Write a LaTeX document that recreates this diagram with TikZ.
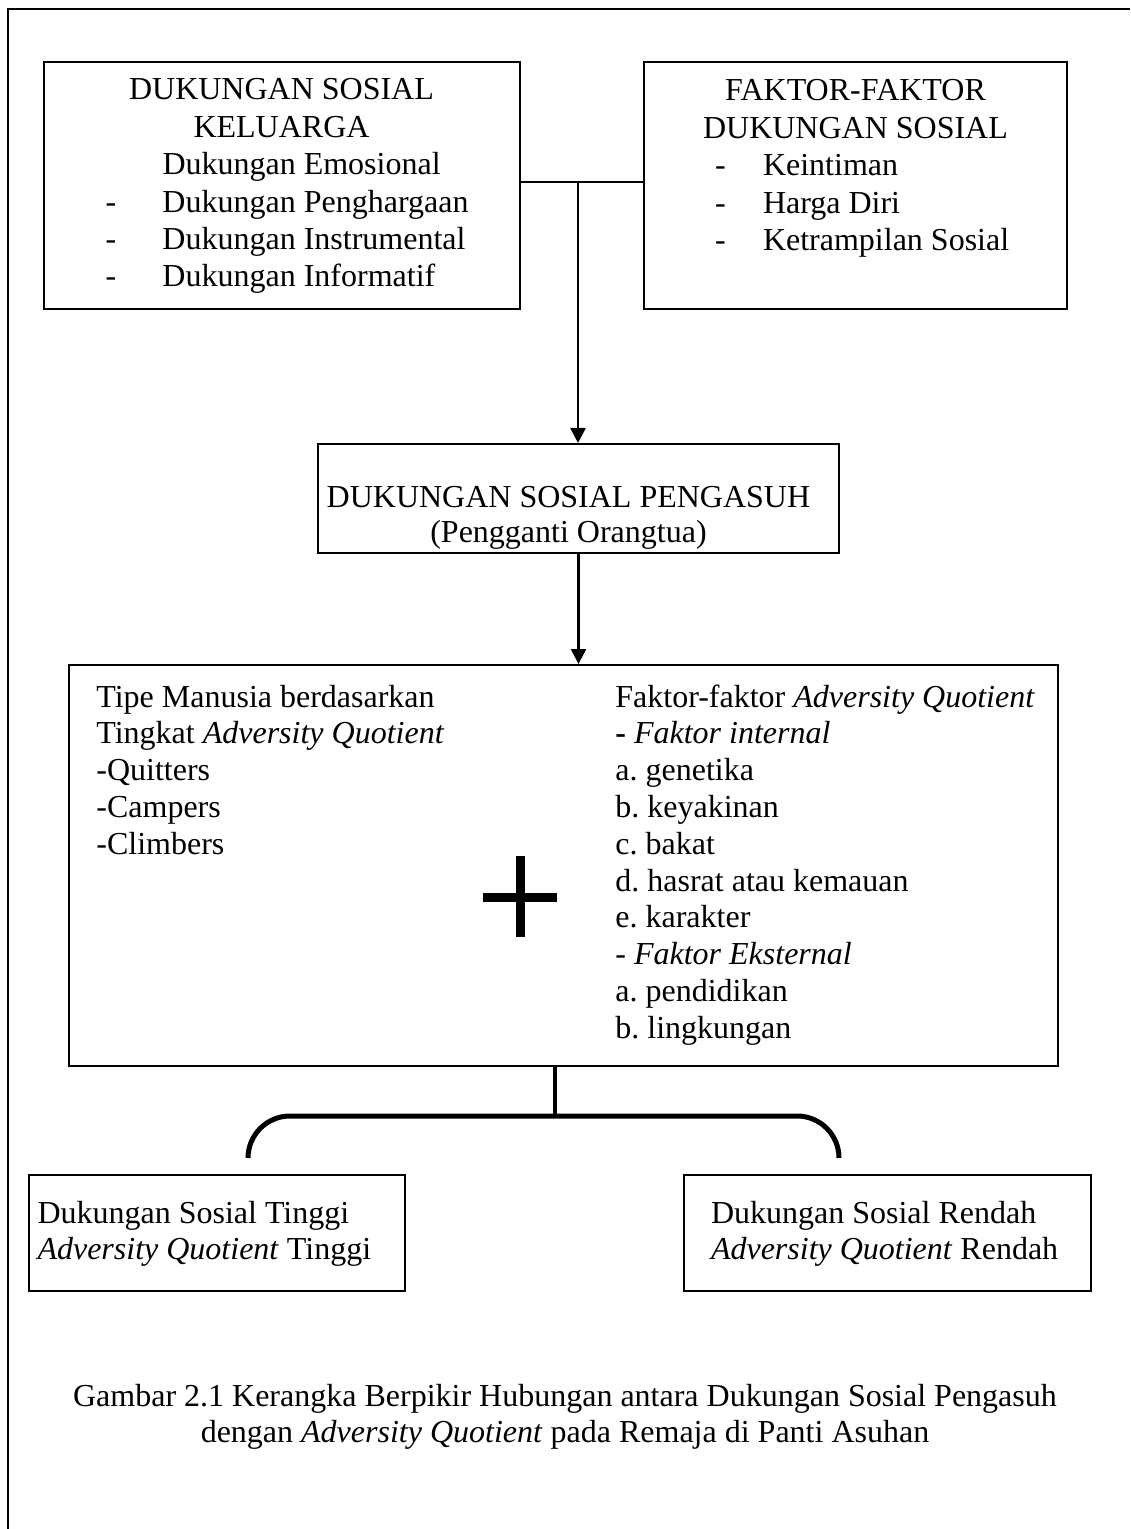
\documentclass[tikz,border=0pt]{standalone}
\usepackage{fontspec}
\setmainfont{Liberation Serif}
\usetikzlibrary{arrows.meta,positioning}
\newcommand\aqfont{\fontsize{16}{18.7}\selectfont}
\frenchspacing

\begin{document}
\begin{tikzpicture}[x=0.5pt,y=-0.5pt,
    box/.style={draw,line width=1pt,inner sep=0pt},
    txt/.style={inner sep=0pt,anchor=base west},
    link/.style={line width=1.3pt,-{Triangle[width=7.5pt,length=7.5pt]}}]
\tikzset{every node/.style={font=\aqfont}}
\useasboundingbox (0,0) rectangle (1130,1529);
% outer frame
\draw[line width=1pt] (8,1529) -- (8,9) -- (1130,9);

\node[box] (keluarga) at (281.5,185.5) {\parbox[c][123.5pt][t]{238pt}{%
    \centering\rule{0pt}{19pt}DUKUNGAN SOSIAL\\KELUARGA\par
    \raggedright
    \hspace*{59.5pt}Dukungan Emosional\\
    \hspace*{31pt}\makebox[28.5pt][l]{-}Dukungan Penghargaan\\
    \hspace*{31pt}\makebox[28.5pt][l]{-}Dukungan Instrumental\\
    \hspace*{31pt}\makebox[28.5pt][l]{-}Dukungan Informatif}};
\node[box] (faktorsos) at (855.5,185.5) {\parbox[c][123.5pt][t]{211.5pt}{%
    \centering\rule{0pt}{19.5pt}FAKTOR-FAKTOR\\DUKUNGAN SOSIAL\par
    \raggedright
    \hspace*{35.5pt}\makebox[24pt][l]{-}Keintiman\\
    \hspace*{35.5pt}\makebox[24pt][l]{-}Harga Diri\\
    \hspace*{35.5pt}\makebox[24pt][l]{-}Ketrampilan Sosial}};

\node[box] (pengasuh) at (578.5,498.5) {\parbox[c][54.5pt][t]{260.5pt}{%
    \centering\rule{0pt}{31.5pt}\hspace*{-10pt}DUKUNGAN SOSIAL PENGASUH\\[-1.2pt]
    \hspace*{-10pt}(Pengganti Orangtua)}};

\node[box,minimum width=494.5pt,minimum height=200.5pt] (aqbox) at (563.5,865.5) {};
\node[txt] (tipe) at (96,707) {\parbox[t]{240pt}{\fontsize{16}{18.4}\selectfont
    Tipe Manusia berdasarkan\\
    Tingkat \textit{Adversity Quotient}\\
    -Quitters\\
    -Campers\\
    -Climbers}};
\node[txt] (faktoraq) at (615,707) {\parbox[t]{220pt}{\fontsize{16}{18.4}\selectfont
    Faktor-faktor \textit{Adversity Quotient}\\
    \textbf{-} \textit{Faktor internal}\\
    a. genetika\\
    b. keyakinan\\
    c. bakat\\
    d. hasrat atau kemauan\\
    e. karakter\\
    - \textit{Faktor Eksternal}\\
    a. pendidikan\\
    b. lingkungan}};
\coordinate (plus) at (520,897);
\draw[line width=4.5pt] (plus) ++(-37,0) -- ++(74,0) (plus) ++(0,-41) -- ++(0,81);

\node[box] (tinggi) at (217,1233) {\parbox[c][58pt][t]{188pt}{\fontsize{16}{18}\selectfont
    \rule{0pt}{24pt}\hspace*{4.25pt}Dukungan Sosial Tinggi\\
    \hspace*{4.25pt}\textit{Adversity Quotient} Tinggi}};
\node[box] (rendah) at (887.5,1233) {\parbox[c][58pt][t]{203.5pt}{\fontsize{16}{18}\selectfont
    \rule{0pt}{24pt}\hspace*{13.5pt}Dukungan Sosial Rendah\\
    \hspace*{13.5pt}\textit{Adversity Quotient} Rendah}};

% connectors
\coordinate (junction) at (578,182);
\draw[line width=1pt] (keluarga.east |- junction) -- (faktorsos.west |- junction);
\draw[link] (junction) -- (junction |- pengasuh.north);
\draw[link] (pengasuh.south) -- (pengasuh.south |- aqbox.north);

\coordinate (split) at (555,1116);
\coordinate (tinggiend) at (248,1158);
\coordinate (rendahend) at (839,1158);
\draw[line width=1.8pt] (split |- aqbox.south) -- (split);
\draw[line width=2.5pt,rounded corners=21pt] (tinggiend) |- (split) -| (rendahend);

\node[anchor=base] (caption) at (565,1406) {\parbox[t]{540pt}{\fontsize{16}{18}\selectfont\centering
    Gambar 2.1 Kerangka Berpikir Hubungan antara Dukungan Sosial Pengasuh\\
    dengan \textit{Adversity Quotient} pada Remaja di Panti Asuhan}};
\end{tikzpicture}
\end{document}
